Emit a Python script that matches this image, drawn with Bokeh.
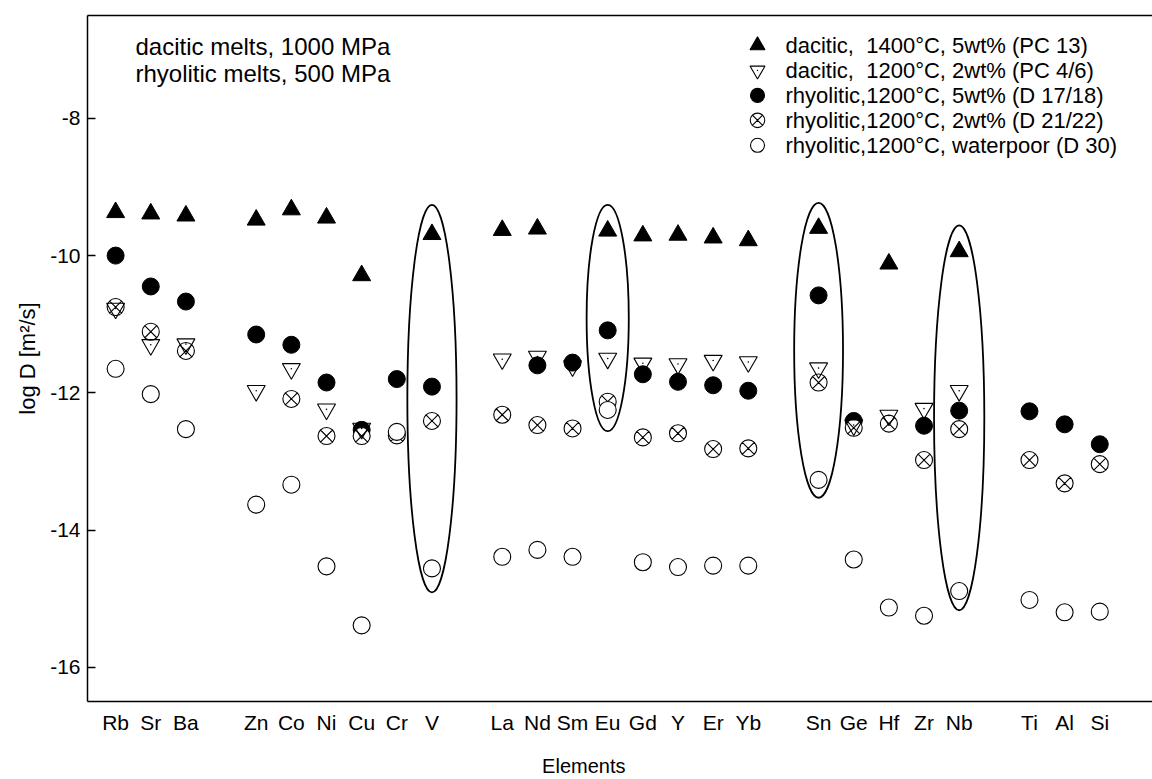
import math
from bokeh.plotting import figure
from bokeh.models import Range1d, FixedTicker, LinearAxis, ColumnDataSource
from bokeh.core.properties import value
from bokeh.embed import file_html
from bokeh.resources import INLINE

FONT = "Liberation Sans"
nan = float("nan")

# ---------------- data ----------------
elements = ["Rb", "Sr", "Ba", "Zn", "Co", "Ni", "Cu", "Cr", "V",
            "La", "Nd", "Sm", "Eu", "Gd", "Y", "Er", "Yb",
            "Sn", "Ge", "Hf", "Zr", "Nb", "Ti", "Al", "Si"]
x_pos = [1, 2, 3, 5, 6, 7, 8, 9, 10,
         12, 13, 14, 15, 16, 17, 18, 19,
         21, 22, 23, 24, 25, 27, 28, 29]

# log D [m^2/s]
dacitic_1400_5wt = [-9.37, -9.39, -9.42, -9.48, -9.33, -9.45, -10.29, nan, -9.69,
                    -9.63, -9.61, nan, -9.64, -9.71, -9.70, -9.74, -9.78,
                    -9.60, nan, -10.12, nan, -9.94, nan, nan, nan]
dacitic_1200_2wt = [-10.77, -11.30, -11.29, -11.97, -11.65, -12.24, -12.52, nan, nan,
                    -11.51, -11.47, -11.61, -11.50, -11.57, -11.58, -11.53, -11.55,
                    -11.64, -12.47, -12.33, -12.23, -11.97, nan, nan, nan]
rhyolitic_1200_5wt = [-10.00, -10.45, -10.67, -11.15, -11.30, -11.85, -12.54, -11.80, -11.91,
                      nan, -11.60, -11.56, -11.09, -11.73, -11.84, -11.89, -11.97,
                      -10.58, -12.41, nan, -12.48, -12.26, -12.27, -12.46, -12.75]
rhyolitic_1200_2wt = [-10.75, -11.11, -11.39, nan, -12.09, -12.63, -12.63, -12.62, -12.41,
                      -12.32, -12.47, -12.52, -12.13, -12.65, -12.59, -12.82, -12.81,
                      -11.85, -12.51, -12.45, -12.98, -12.53, -12.98, -13.32, -13.04]
rhyolitic_1200_waterpoor = [-11.65, -12.02, -12.53, -13.63, -13.34, -14.53, -15.39, -12.57, -14.56,
                            -14.39, -14.29, -14.39, -12.25, -14.47, -14.54, -14.52, -14.52,
                            -13.27, -14.43, -15.13, -15.25, -14.89, -15.02, -15.20, -15.19]

legend_labels = ["dacitic, \u00a01400°C, 5wt% (PC 13)",
                 "dacitic, \u00a01200°C, 2wt% (PC 4/6)",
                 "rhyolitic,1200°C, 5wt% (D 17/18)",
                 "rhyolitic,1200°C, 2wt% (D 21/22)",
                 "rhyolitic,1200°C, waterpoor (D 30)"]

# highlighted elements (ellipses): element, top and bottom of the ellipse in log D, width in element slots
ellipse_elements = ["V", "Eu", "Sn", "Nb"]
ellipse_top = [-9.26, -9.26, -9.23, -9.56]
ellipse_bottom = [-14.91, -12.56, -13.53, -15.17]
ellipse_width = [1.40, 1.20, 1.39, 1.43]

y_ticks = [-16, -14, -12, -10, -8]
annotation_lines = ["dacitic melts, 1000 MPa", "rhyolitic melts, 500 MPa"]
x_title = "Elements"
y_title = "log D [m²/s]"

# ---------------- figure ----------------
FRAME_W, FRAME_H = 1065, 687
p = figure(width=1152, height=779,
           x_range=Range1d(0.2, 30.5), y_range=Range1d(-16.5, -6.5),
           output_backend="svg", toolbar_location=None,
           min_border_left=87, min_border_right=0, min_border_top=15, min_border_bottom=77,
           background_fill_color="white", border_fill_color="white")
p.outline_line_color = None
p.xgrid.visible = False
p.ygrid.visible = False
p.extra_x_ranges = {"px": Range1d(0, FRAME_W)}
p.extra_y_ranges = {"px": Range1d(FRAME_H, 0)}

# x axis
xa = p.xaxis[0]
xa.ticker = FixedTicker(ticks=x_pos)
xa.major_label_overrides = {x: e for x, e in zip(x_pos, elements)}
xa.major_tick_line_color = None
xa.minor_tick_line_color = None
xa.axis_line_color = "black"
xa.axis_line_width = 1.5
xa.major_label_standoff = 3
xa.major_label_text_font = FONT
xa.major_label_text_font_size = "21px"
xa.major_label_text_color = "black"

# x-axis title: a label-only axis below, placed left of the frame centre as in the original
X_TITLE_POS = 14.32
xt = LinearAxis(ticker=FixedTicker(ticks=[X_TITLE_POS]),
                major_label_overrides={X_TITLE_POS: x_title},
                axis_line_color=None, major_tick_line_color=None, minor_tick_line_color=None,
                major_label_standoff=12, major_label_text_font=FONT,
                major_label_text_font_size="20px", major_label_text_color="black")
p.add_layout(xt, "below")

# y axis
ya = p.yaxis[0]
ya.ticker = FixedTicker(ticks=y_ticks)
ya.major_label_overrides = {t: str(t) for t in y_ticks}
ya.major_tick_in = 8
ya.major_tick_out = 0
ya.major_tick_line_color = "black"
ya.major_tick_line_width = 1.5
ya.minor_tick_line_color = None
ya.axis_line_color = "black"
ya.axis_line_width = 1.5
ya.major_label_standoff = 7
ya.major_label_text_font = FONT
ya.major_label_text_font_size = "21px"
ya.major_label_text_color = "black"
ya.axis_label = y_title
ya.axis_label_text_font = FONT
ya.axis_label_text_font_size = "22px"
ya.axis_label_text_font_style = "normal"
ya.axis_label_text_color = "black"
ya.axis_label_standoff = 7

# top frame line
top = LinearAxis(ticker=FixedTicker(ticks=[]), axis_line_color="black", axis_line_width=1.5,
                 major_tick_line_color=None, minor_tick_line_color=None,
                 major_label_text_font_size="0px")
p.add_layout(top, "above")

# ---------------- ellipses ----------------
pos_of = dict(zip(elements, x_pos))
ell = ColumnDataSource(dict(
    x=[pos_of[e] for e in ellipse_elements],
    y=[(t + b) / 2 for t, b in zip(ellipse_top, ellipse_bottom)],
    w=ellipse_width,
    h=[t - b for t, b in zip(ellipse_top, ellipse_bottom)],
))
p.ellipse(x="x", y="y", width="w", height="h", source=ell,
          fill_color=None, line_color="black", line_width=1.8)

# ---------------- markers ----------------
p.scatter(x_pos, dacitic_1400_5wt, marker="triangle", size=18,
          fill_color="black", line_color="black", line_width=1)
p.scatter(x_pos, rhyolitic_1200_5wt, marker="circle", size=17,
          fill_color="black", line_color="black", line_width=1)
p.scatter(x_pos, rhyolitic_1200_2wt, marker="circle_x", size=17,
          fill_color="white", line_color="black", line_width=1.1)
p.scatter(x_pos, dacitic_1200_2wt, marker="inverted_triangle", size=18,
          fill_color=None, line_color="black", line_width=1.1)
p.scatter(x_pos, dacitic_1200_2wt, marker="circle", size=1.6,
          fill_color="black", line_color=None)
p.scatter(x_pos, rhyolitic_1200_waterpoor, marker="circle", size=17,
          fill_color="white", line_color="black", line_width=1.1)

# ---------------- legend (drawn in frame pixel coordinates) ----------------
LEG_MX, LEG_TX = 670, 698
leg_rows = [30, 55, 80, 105, 130]
leg_styles = [("triangle", 15, "black"), ("inverted_triangle", 15, None),
              ("circle", 14, "black"), ("circle_x", 14.5, "white"), ("circle", 14, "white")]
for row, (mk, sz, fc) in zip(leg_rows, leg_styles):
    p.scatter([LEG_MX], [row], marker=mk, size=sz, fill_color=fc, line_color="black",
              line_width=1.1, x_range_name="px", y_range_name="px")
    if mk == "inverted_triangle":
        p.scatter([LEG_MX], [row], marker="circle", size=1.4, fill_color="black",
                  line_color=None, x_range_name="px", y_range_name="px")
p.text(x=[LEG_TX] * len(legend_labels), y=leg_rows, text=legend_labels,
       text_font=value(FONT), text_font_size="22px", text_color="black",
       text_baseline="middle", text_align="left", x_range_name="px", y_range_name="px")

# ---------------- annotation ----------------
p.text(x=[48, 48], y=[31, 58], text=annotation_lines,
       text_font=value(FONT), text_font_size="24px", text_color="black",
       text_baseline="middle", text_align="left", x_range_name="px", y_range_name="px")

open("out.html", "w").write(file_html(p, INLINE))
